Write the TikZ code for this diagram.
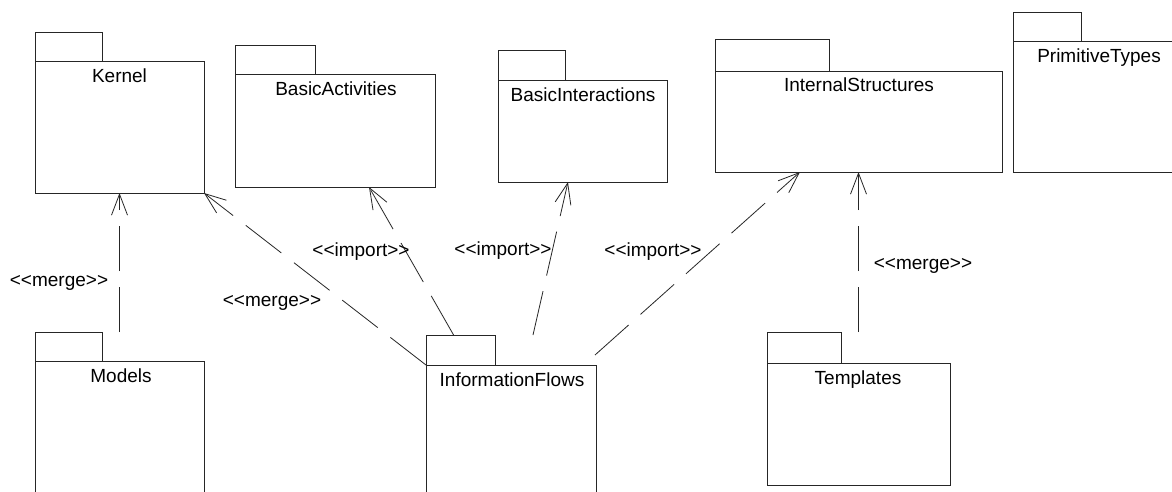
\documentclass[tikz,border=0pt]{standalone}
\usepackage{fontspec}
\setmainfont{Liberation Sans}
\usetikzlibrary{arrows.meta,calc}
\begin{document}
\begin{tikzpicture}[x=1pt,y=-1pt,
  line width=0.8pt,
  body/.style={draw=black!85,rectangle,inner sep=0pt,outer sep=0pt,anchor=north west},
  pkgtab/.style={draw=black!85,rectangle,inner sep=0pt,outer sep=0pt,anchor=south west},
  lbl/.style={anchor=base,inner sep=0pt,font=\fontsize{19}{22}\selectfont},
  dep/.style={draw=black!85,dash pattern=on 45pt off 16pt,-{Straight Barb[length=21pt,width=16pt]}}
]
\fill[white] (0,0) rectangle (1172,491);
\useasboundingbox (0,0) rectangle (1172,491);
% packages
\node[body,minimum width=169pt,minimum height=132pt] (kernel) at (35,61) {};
\node[pkgtab,minimum width=67pt,minimum height=29pt] (kerneltab) at (kernel.north west) {};
\node[lbl] (kernellbl) at (119.5,82) {Kernel};

\node[body,minimum width=200pt,minimum height=113pt] (bact) at (235,74) {};
\node[pkgtab,minimum width=80pt,minimum height=29pt] (bacttab) at (bact.north west) {};
\node[lbl] (bactlbl) at (336,95) {BasicActivities};

\node[body,minimum width=169pt,minimum height=102pt] (bint) at (498,80) {};
\node[pkgtab,minimum width=67pt,minimum height=30pt] (binttab) at (bint.north west) {};
\node[lbl] (bintlbl) at (583,101) {BasicInteractions};

\node[body,minimum width=287pt,minimum height=101pt] (istr) at (715,71) {};
\node[pkgtab,minimum width=114pt,minimum height=32pt] (istrtab) at (istr.north west) {};
\node[lbl] (istrlbl) at (859,91) {InternalStructures};

\node[body,minimum width=200pt,minimum height=131pt] (prim) at (1013,41) {};
\node[pkgtab,minimum width=68pt,minimum height=29pt] (primtab) at (prim.north west) {};
\node[lbl] (primlbl) at (1099,62.5) {PrimitiveTypes};

\node[body,minimum width=169pt,minimum height=140pt] (models) at (35,361) {};
\node[pkgtab,minimum width=67pt,minimum height=29pt] (modelstab) at (models.north west) {};
\node[lbl] (modelslbl) at (121,382) {Models};

\node[body,minimum width=170pt,minimum height=136pt] (iflow) at (426,365) {};
\node[pkgtab,minimum width=69pt,minimum height=30pt] (iflowtab) at (iflow.north west) {};
\node[lbl] (iflowlbl) at (512,386) {InformationFlows};

\node[body,minimum width=183pt,minimum height=122pt] (tmpl) at (767,363) {};
\node[pkgtab,minimum width=74pt,minimum height=31pt] (tmpltab) at (tmpl.north west) {};
\node[lbl] (tmpllbl) at (858,384) {Templates};

% connector end points
\coordinate (modelssrc) at (models.north |- modelstab.north);
\coordinate (tmplsrc) at (tmpl.north |- tmpltab.north);
\coordinate (ifa) at ($(iflowtab.north west)!0.4!(iflowtab.north east)$);
\coordinate (ifb) at ($(iflow.north west)+(107,-30)$);
\coordinate (ifc) at ($(iflow.north east)+(-1,-10)$);
\coordinate (bacttgt) at ($(bact.south west)!0.67!(bact.south east)$);
\coordinate (binttgt) at ($(bint.south west)!0.414!(bint.south east)$);
\coordinate (istrtgt) at ($(istr.south west)!0.296!(istr.south east)$);

% connectors
\draw[dep] (modelssrc) -- (kernel.south);
\draw[dep] (iflow.north west) -- (kernel.south east);
\draw[dep] (ifa) -- (bacttgt);
\draw[dep] (ifb) -- (binttgt);
\draw[dep] (ifc) -- (istrtgt);
\draw[dep] (tmplsrc) -- (istr.south);

% connector labels
\node[lbl] (m1) at (59,286) {<{}<merge>{}>};
\node[lbl] (m2) at (272,306) {<{}<merge>{}>};
\node[lbl] (i1) at (361,256) {<{}<import>{}>};
\node[lbl] (i2) at (503,255) {<{}<import>{}>};
\node[lbl] (i3) at (653,256) {<{}<import>{}>};
\node[lbl] (m3) at (923,269) {<{}<merge>{}>};
\end{tikzpicture}
\end{document}
